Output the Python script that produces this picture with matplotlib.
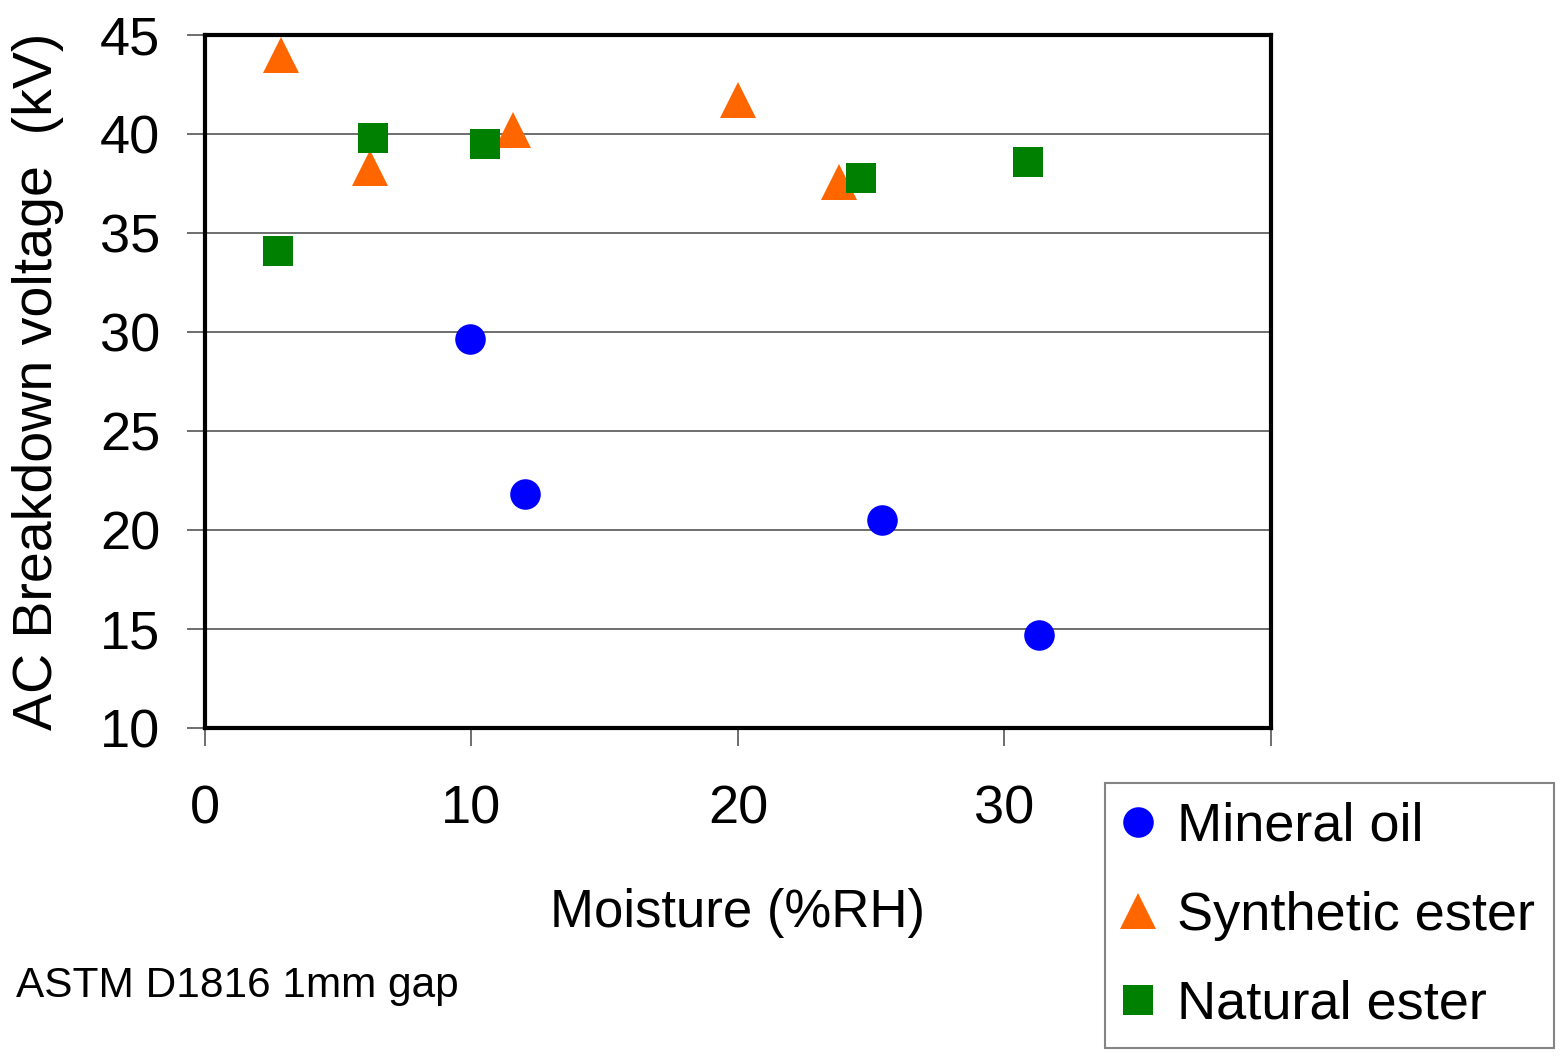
import matplotlib
matplotlib.use("Agg")
import matplotlib.pyplot as plt

plt.rcParams['font.family'] = ['Liberation Sans', 'DejaVu Sans']

# breakdown voltage vs moisture for three insulating liquids
mineral_x = [9.95, 12.0, 25.4, 31.3]
mineral_y = [29.65, 21.8, 20.5, 14.7]

synthetic_x = [2.85, 6.2, 11.55, 20.0, 23.8]
synthetic_y = [44.0, 38.3, 40.2, 41.7, 37.6]

natural_x = [2.75, 6.3, 10.5, 24.6, 30.9]
natural_y = [34.1, 39.8, 39.5, 37.8, 38.6]

fig = plt.figure(figsize=(15.62, 10.64), dpi=100)
ax = fig.add_axes([0.1312, 0.3158, 0.6825, 0.6513])

ax.plot(mineral_x, mineral_y, 'o', color='#0000ff', ms=22, mew=0,
        label='Mineral oil', zorder=3)
ax.plot(synthetic_x, synthetic_y, '^', color='#ff6600', ms=26, mew=0,
        label='Synthetic ester', zorder=3)
ax.plot(natural_x, natural_y, 's', color='#008000', ms=21, mew=0,
        label='Natural ester', zorder=3)

ax.set_xlim(0, 40)
ax.set_ylim(10, 45)
ax.set_xticks([0, 10, 20, 30, 40])
ax.set_xticklabels(['0', '10', '20', '30', ''])
ax.set_yticks(range(10, 46, 5))
ax.yaxis.grid(True, color='#555555', lw=1.2)
ax.set_axisbelow(True)

for s in ax.spines.values():
    s.set_linewidth(3)
ax.tick_params(axis='both', direction='out', length=13, width=1.2,
               color='#555555', labelsize=39)
ax.tick_params(axis='x', pad=28)
ax.tick_params(axis='y', pad=19)

ax.set_xlabel('Moisture (%RH)', fontsize=38, labelpad=38)
ax.set_ylabel('AC Breakdown voltage  (kV)', fontsize=40, labelpad=26)

fig.text(0.01, 0.073, 'ASTM D1816 1mm gap', fontsize=30.5, va='center')

leg = fig.legend(loc='upper left', bbox_to_anchor=(0.7075, 0.2645),
                 fontsize=39, frameon=True, fancybox=False,
                 borderpad=0.35, labelspacing=0.72, handlelength=0.52,
                 handletextpad=0.45, borderaxespad=0)
leg.get_frame().set_edgecolor('#666666')
leg.get_frame().set_linewidth(1.5)

fig.savefig('out.png', dpi=100)
